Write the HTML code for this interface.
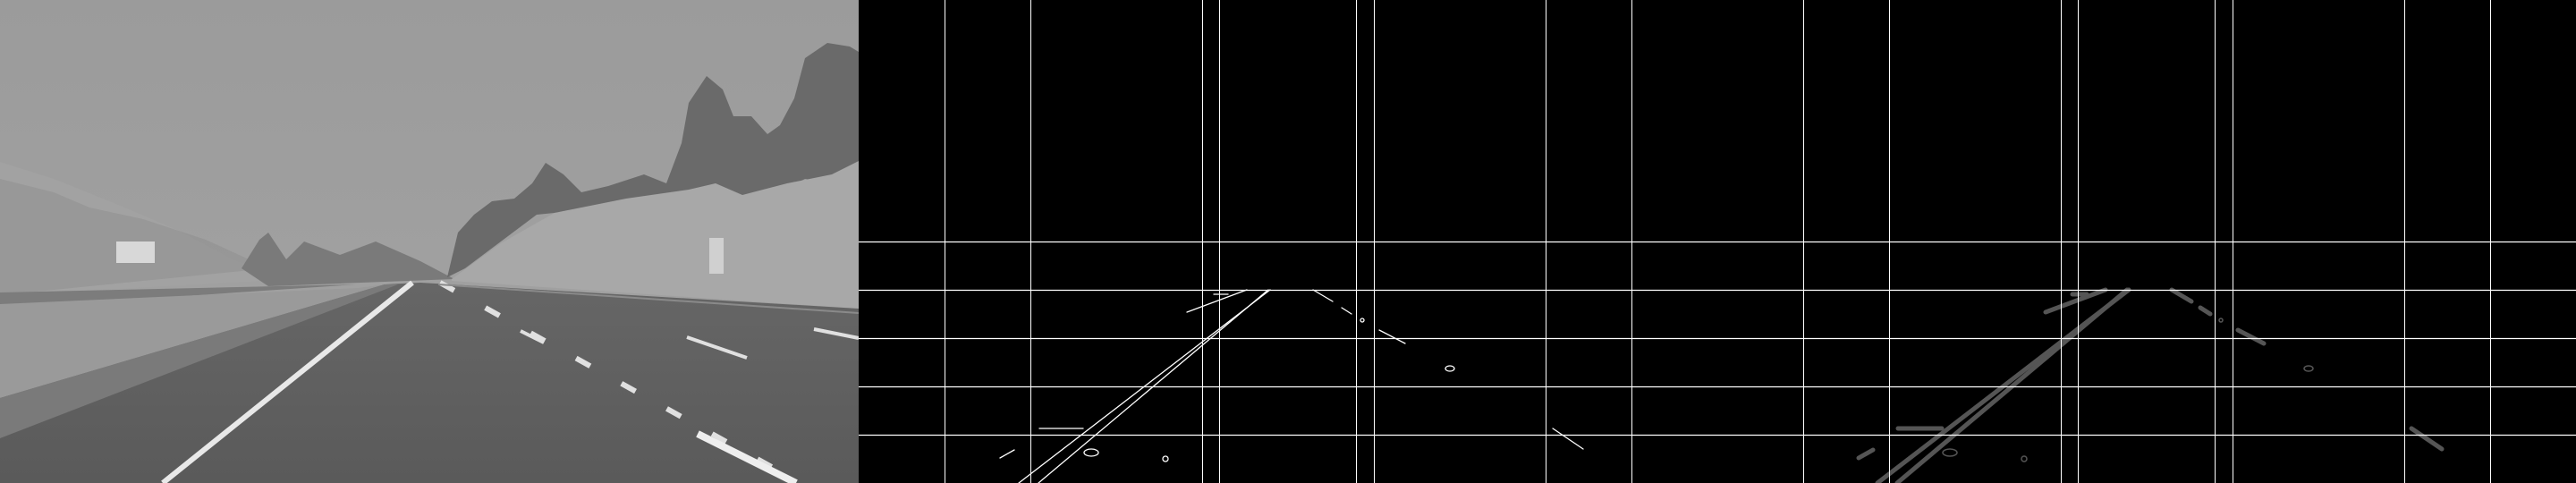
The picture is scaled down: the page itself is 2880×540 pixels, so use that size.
<!DOCTYPE html>
<html><head><meta charset="utf-8"><style>
html,body{margin:0;padding:0;background:#000;}
svg{display:block;}
</style></head><body>
<svg id="root" width="2880" height="540" viewBox="0 0 2880 540" xmlns="http://www.w3.org/2000/svg">
<defs>
<linearGradient id="sky" x1="0" y1="0" x2="0" y2="1"><stop offset="0" stop-color="#9b9b9b"/><stop offset="1" stop-color="#a4a4a4"/></linearGradient>
<linearGradient id="road" x1="0" y1="0" x2="0" y2="1"><stop offset="0" stop-color="#666"/><stop offset="1" stop-color="#5a5a5a"/></linearGradient>
</defs>
<g id="photo">
<rect x="0" y="0" width="960" height="540" fill="url(#sky)"/>
<polygon points="0,181 60,200 130,228 200,258 260,290 300,305 330,312 0,330" fill="#a2a2a2"/>
<polygon points="0,200 60,215 100,232 160,245 230,268 300,300 0,330" fill="#8e8e8e" opacity="0.5"/>
<polygon points="270,300 290,268 300,260 320,290 340,270 380,285 420,270 470,292 508,312 300,320" fill="#7a7a7a"/>
<polygon points="500,310 512,260 530,240 550,225 575,222 595,205 610,182 630,195 650,215 680,208 720,195 745,205 762,160 770,115 790,85 808,100 820,130 840,130 858,150 872,140 888,110 900,65 925,48 950,52 960,58 960,190 930,205 900,200 870,215 850,245 820,250 780,240 740,250 700,250 650,235 600,240 560,270 520,300" fill="#6a6a6a"/>
<polygon points="505,312 560,272 620,238 700,222 770,212 800,205 830,218 880,205 930,195 960,180 960,345 505,314" fill="#a8a8a8"/>
<rect x="130" y="270" width="43" height="24" fill="#d8d8d8"/>
<rect x="793" y="266" width="16" height="40" fill="#d0d0d0"/>
<polygon points="0,327 398,318 0,345" fill="#7c7c7c"/>
<polygon points="0,340 400,322 430,318 0,445" fill="#9a9a9a"/>
<polygon points="0,445 430,318 470,316 960,345 960,540 0,540" fill="url(#road)"/>
<polygon points="0,445 430,318 445,318 0,490" fill="#7a7a7a"/>
<line x1="461" y1="316" x2="182" y2="540" stroke="#e8e8e8" stroke-width="6"/>
<line x1="492" y1="316" x2="895" y2="540" stroke="#e0e0e0" stroke-width="6" stroke-dasharray="18 40"/>
<line x1="780" y1="485" x2="890" y2="540" stroke="#eeeeee" stroke-width="8"/>
<line x1="768" y1="377" x2="835" y2="400" stroke="#e0e0e0" stroke-width="4"/>
<line x1="910" y1="368" x2="960" y2="378" stroke="#e0e0e0" stroke-width="4"/>
<line x1="582" y1="370" x2="608" y2="383" stroke="#e0e0e0" stroke-width="4"/>
<line x1="490" y1="318" x2="960" y2="350" stroke="#8a8a8a" stroke-width="2"/>
</g>
<g id="edges"></g>
<g id="hough"></g>
<g id="grid"></g>
<script>
const gridX = [96,192,384,403,556,576,768,864];
const gridY = [270,324,378,432,486];
const segA = [[179,540,460,324],[201,540,458,324],[367,349,434,324],[397,329,413,329],[508,324,530,337],[540,344,551,351],[582,369,611,384],[776,479,810,502],[202,479,251,479],[158,512,174,503]];
const blobs = [[563,358,2,2],[661,412,5,3],[260,506,8,4],[343,513,3,3]];
const NS='http://www.w3.org/2000/svg';
const root=document.getElementById('root');
function mk(tag,attrs,parent){const e=document.createElementNS(NS,tag);for(const k in attrs)e.setAttribute(k,attrs[k]);parent.appendChild(e);return e;}
const edges=document.getElementById('edges'), hough=document.getElementById('hough'), grid=document.getElementById('grid');
mk('rect',{x:960,y:0,width:1920,height:540,fill:'#000'},edges);
[[960,edges,'#fff',1.3],[1920,hough,'#555',5]].forEach(([ox,g,col,w])=>{
  segA.forEach(s=>{const l=mk('line',{x1:ox+s[0],y1:s[1],x2:ox+s[2],y2:s[3],stroke:col,'stroke-width':w,'stroke-linecap':'round'},g);
  
  });
  blobs.forEach(b=>{const e=mk('ellipse',{cx:ox+b[0],cy:b[1],rx:b[2],ry:b[3],fill:'none',stroke:col,'stroke-width':Math.min(w,1.5)},g);
  
  });
});
[960,1920].forEach(ox=>{
  gridX.forEach(x=>{const l=mk('line',{x1:ox+x+0.5,y1:0,x2:ox+x+0.5,y2:540,stroke:'#fff','stroke-width':1},grid);
  
  });
  gridY.forEach(y=>{const l=mk('line',{x1:ox,y1:y+0.5,x2:ox+960,y2:y+0.5,stroke:'#fff','stroke-width':1.2},grid);
  
  });
});
</script>
</svg>
</body></html>
